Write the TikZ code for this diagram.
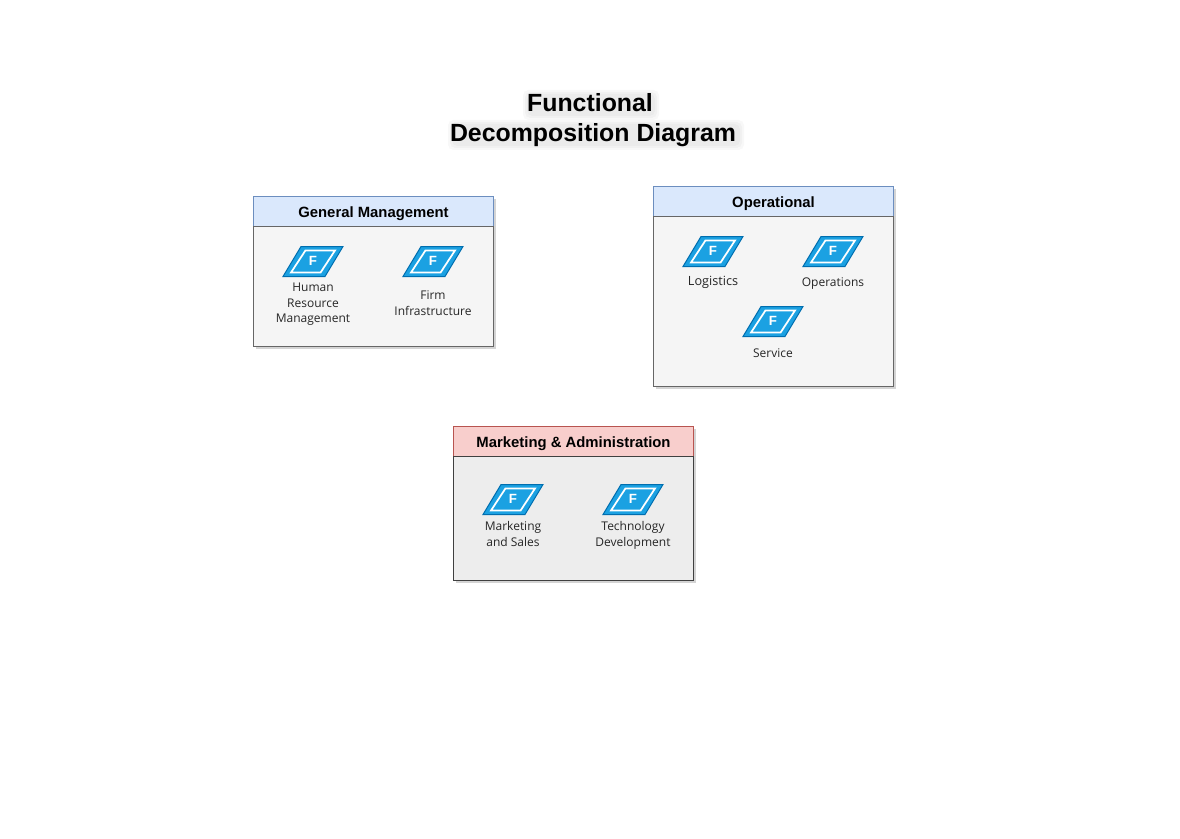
\documentclass[tikz,border=0pt]{standalone}
\usepackage{fontspec}
\setmainfont{Liberation Sans}
\newfontfamily\labelfont{Open Sans}
\usetikzlibrary{shapes.geometric,shadows}

\definecolor{bluehead}{HTML}{DAE8FC}
\definecolor{blueline}{HTML}{6C8EBF}
\definecolor{redhead}{HTML}{F8CECC}
\definecolor{redline}{HTML}{B85450}
\definecolor{funcfill}{HTML}{1BA1E2}
\definecolor{funcline}{HTML}{006EAF}

\tikzset{
  boxshadow/.style={drop shadow={shadow xshift=2.2pt,shadow yshift=-2.2pt,fill=black!60,opacity=.28}},
  boxhead/.style={rectangle,draw=blueline,fill=bluehead,line width=.6pt,minimum width=180pt,minimum height=22.5pt,
    inner sep=0pt,text height=8.7pt,text depth=0pt,font=\bfseries\fontsize{11.15}{13}\selectfont,boxshadow},
  boxbody/.style={rectangle,draw=black!60,fill=black!4,line width=.6pt,minimum width=180pt,inner sep=0pt,boxshadow},
  funcshape/.style={trapezium,trapezium left angle=56.3,trapezium right angle=123.7,trapezium stretches=true,
    draw=funcline,fill=funcfill,line width=.75pt,minimum width=45pt,minimum height=22.5pt,inner sep=0pt},
  funcmark/.style={trapezium,trapezium left angle=56.3,trapezium right angle=123.7,trapezium stretches=true,
    draw=white,line width=1.3pt,minimum width=33pt,minimum height=16.5pt,inner sep=0pt,text=white,
    text height=7.2pt,text depth=1.5pt,font=\bfseries\fontsize{10}{10}\selectfont},
  funclabel/.style={align=center,text=black!85,font=\labelfont\fontsize{9}{11.6}\selectfont},
  titleblur/.style={fill=black!70,opacity=.04,rounded corners=4pt},
}

\begin{document}
\begin{tikzpicture}[x=.75pt,y=-.75pt]
  \useasboundingbox (0,0) rectangle (1180,838);

  % title
  \foreach \s in {0,2,4} {
    \fill[titleblur] (527-\s,94-\s) rectangle (655+\s,116+\s);
    \fill[titleblur] (452-\s,124-\s) rectangle (740+\s,146+\s);
  }
  \node[align=center,font=\bfseries\fontsize{18.65}{22.5}\selectfont] (title) at (593,120) {Functional\hspace*{4.5pt}\\Decomposition Diagram};

  % general management
  \node[boxhead] (genhead) at (373.5,211.5) {General Management};
  \node[boxbody,minimum height=90pt] (genbody) at (373.5,286.5) {};
  \node[funcshape] (hr) at (313,261.5) {\phantom{F}};
  \node[funcmark] (hrmark) at (313,261.5) {F};
  \node[funcshape] (firm) at (433,261.5) {\phantom{F}};
  \node[funcmark] (firmmark) at (433,261.5) {F};
  \node[funclabel] (hrtext) at (313,304.5) {Human\\Resource\\Management};
  \node[funclabel] (firmtext) at (433,303) {Firm\\Infrastructure};

  % operational
  \node[boxhead] (ophead) at (773.5,201.5) {Operational};
  \node[boxbody,minimum height=127.5pt] (opbody) at (773.5,301.5) {};
  \node[funcshape] (log) at (713,251.5) {\phantom{F}};
  \node[funcmark] (logmark) at (713,251.5) {F};
  \node[funcshape] (oper) at (833,251.5) {\phantom{F}};
  \node[funcmark] (opermark) at (833,251.5) {F};
  \node[funcshape] (serv) at (773,321.5) {\phantom{F}};
  \node[funcmark] (servmark) at (773,321.5) {F};
  \node[funclabel,font=\labelfont\fontsize{9.5}{11.6}\selectfont] (logtext) at (713,282) {Logistics};
  \node[funclabel] (opertext) at (833,284) {Operations};
  \node[funclabel] (servtext) at (773,353) {Service};

  % marketing
  \node[boxhead,draw=redline,fill=redhead] (markhead) at (573.5,441.5) {Marketing \& Administration};
  \node[boxbody,draw=black!75,fill=black!7,minimum height=93pt] (markbody) at (573.5,518.5) {};
  \node[funcshape] (sales) at (513,499.5) {\phantom{F}};
  \node[funcmark] (salesmark) at (513,499.5) {F};
  \node[funcshape] (tech) at (633,499.5) {\phantom{F}};
  \node[funcmark] (techmark) at (633,499.5) {F};
  \node[funclabel] (salestext) at (513,534) {Marketing\\and Sales};
  \node[funclabel] (techtext) at (633,535.5) {Technology\\Development};
\end{tikzpicture}
\end{document}
